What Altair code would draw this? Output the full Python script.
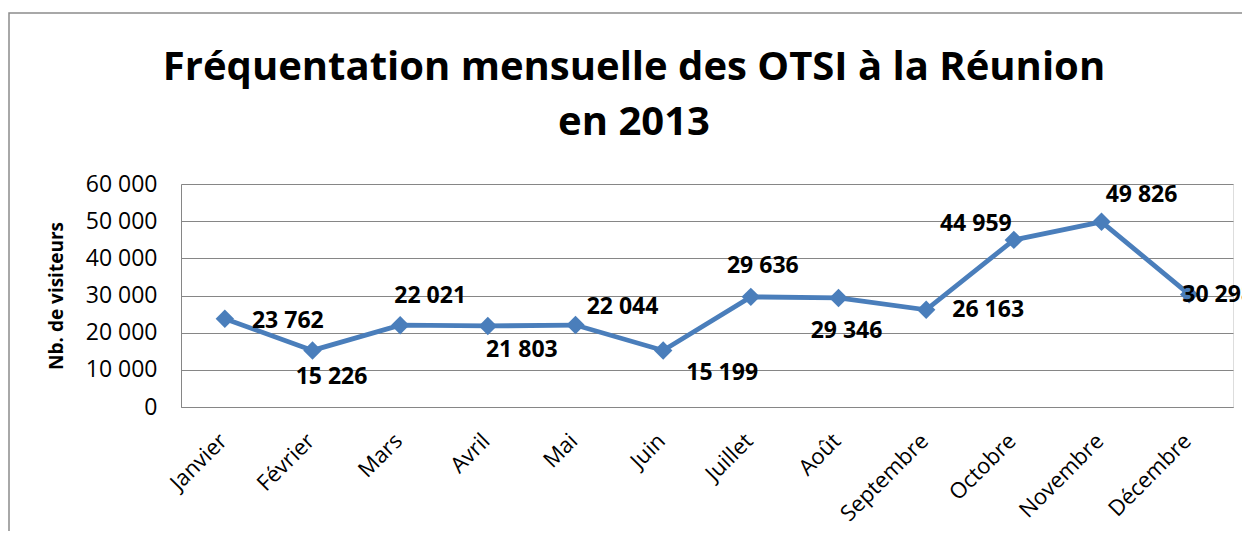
import altair as alt
import pandas as pd

# ---- data ----
months = ["Janvier", "Février", "Mars", "Avril", "Mai", "Juin",
          "Juillet", "Août", "Septembre", "Octobre", "Novembre", "Décembre"]
visitors = [23762, 15226, 22021, 21803, 22044, 15199,
            29636, 29346, 26163, 44959, 49826, 30298]
y_ticks = [0, 10000, 20000, 30000, 40000, 50000, 60000]
title_lines = ["Fréquentation mensuelle des OTSI à la Réunion", "en 2013"]
y_title = "Nb. de visiteurs"

# ---- annotation layout (pixel offsets of each value label from its point) ----
label_offsets = {
    "Janvier": (63, 2), "Février": (19, 27), "Mars": (30, -29),
    "Avril": (34, 24), "Mai": (47, -18), "Juin": (59, 22),
    "Juillet": (12, -31), "Août": (8, 33), "Septembre": (62, 0),
    "Octobre": (-38, -16), "Novembre": (40, -27), "Décembre": (29, 1),
}

BLUE = "#4A7EBB"
GRID = "#868686"
FONT = "Open Sans"
W, H = 1052, 223

df = pd.DataFrame({"Mois": months, "Visiteurs": visitors})

x_enc = alt.X("Mois:N", sort=months, title=None,
              scale=alt.Scale(padding=0.5),
              axis=alt.Axis(labelAngle=-45, labelAlign="right", labelBaseline="middle",
                            labelPadding=30, labelOffset=-2, ticks=False, domainColor=GRID,
                            labelFont=FONT, labelFontSize=22, labelColor="black",
                            labelOverlap=False, grid=False))
y_enc = alt.Y("Visiteurs:Q", title=y_title,
              scale=alt.Scale(domain=[0, 60000], nice=False),
              axis=alt.Axis(values=y_ticks, tickCount=len(y_ticks), ticks=False,
                            domainColor=GRID,
                            gridColor=GRID, gridWidth=1, gridOpacity=1,
                            labelExpr="replace(format(datum.value, ','), ',', ' ')",
                            labelOverlap=False,
                            labelFont=FONT, labelFontSize=23, labelColor="black",
                            labelPadding=24, titleFont=FONT, titleFontSize=19,
                            titleFontWeight="bold", titleColor="black",
                            titlePadding=19))

base = alt.Chart(df)

frame = alt.Chart(pd.DataFrame({"f": [0]})).mark_rect(
    fill="transparent", stroke="#8C8C8C", strokeWidth=1.5
).encode(x=alt.value(-172), x2=alt.value(1300), y=alt.value(-171), y2=alt.value(600))

title_df = pd.DataFrame({"line": title_lines, "row": list(range(len(title_lines)))})
title_layers = []
for i, ypos in enumerate([-104, -49]):
    title_layers.append(
        alt.Chart(title_df).transform_filter(alt.datum.row == i)
        .mark_text(font=FONT, fontSize=40, fontWeight="bold", color="black",
                   align="center", baseline="alphabetic")
        .encode(text="line:N", x=alt.value(453), y=alt.value(ypos))
    )

line = base.mark_line(color=BLUE, strokeWidth=4.8,
                      point=alt.OverlayMarkDef(shape="diamond", size=340,
                                               filled=True, color=BLUE, opacity=1)
                      ).encode(x=x_enc, y=y_enc)

labels = []
for m, (dx, dy) in label_offsets.items():
    labels.append(
        base.transform_filter(alt.datum.Mois == m)
        .transform_calculate(lab="replace(format(datum.Visiteurs, ','), ',', ' ')")
        .mark_text(font=FONT, fontSize=23, fontWeight="bold", color="black",
                   dx=dx, dy=dy, align="center", baseline="middle")
        .encode(x=x_enc, y=y_enc, text="lab:N")
    )

chart = alt.layer(frame, *title_layers, line, *labels).properties(
    width=W, height=H,
    autosize=alt.AutoSizeParams(type="none"),
    padding={"left": 173, "top": 176, "right": 9, "bottom": 124},
).configure_view(stroke=None).configure(background="white")

chart.save("out.html", embed_options={"renderer": "svg", "actions": False})
